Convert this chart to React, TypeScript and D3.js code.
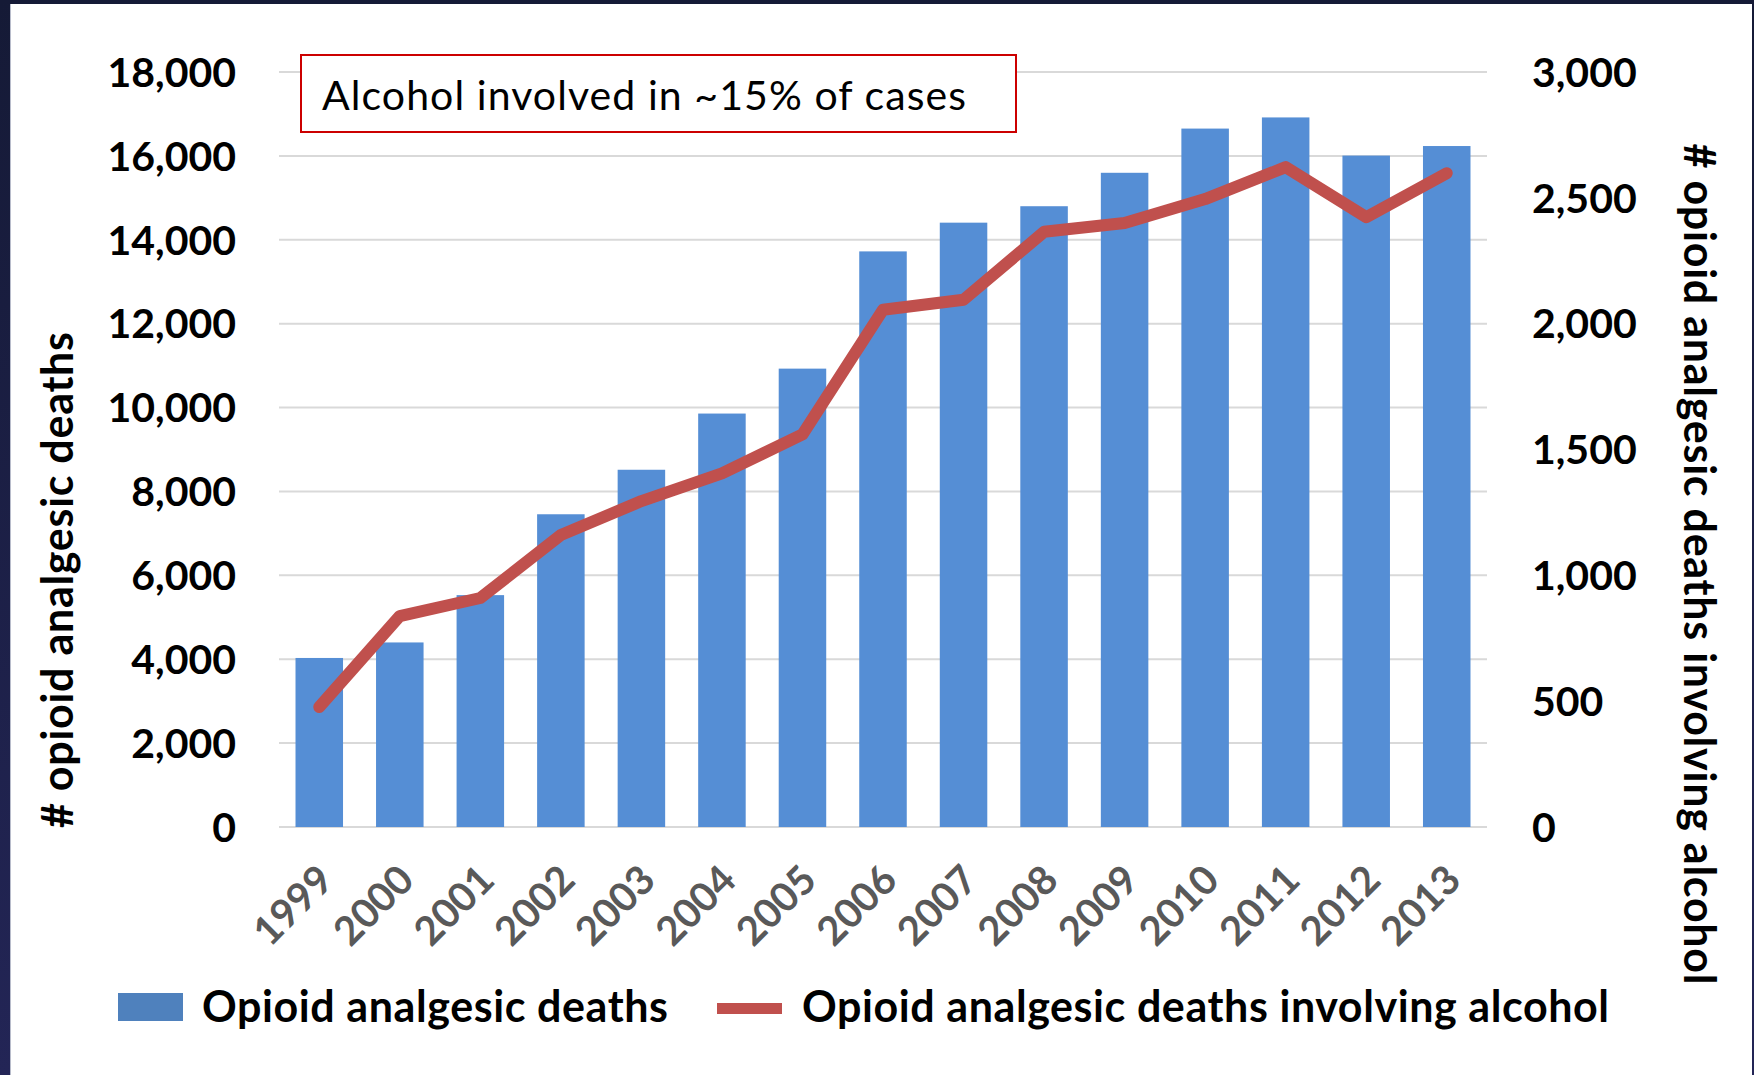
import React from "react";
import * as d3 from "d3";

const years = ["1999","2000","2001","2002","2003","2004","2005","2006","2007","2008","2009","2010","2011","2012","2013"];
const opioidDeaths = [4030, 4400, 5528, 7456, 8517, 9857, 10928, 13723, 14408, 14800, 15597, 16651, 16917, 16007, 16235];
const alcoholDeaths = [477, 838, 910, 1160, 1295, 1405, 1560, 2055, 2095, 2365, 2400, 2495, 2622, 2423, 2598];
const leftTicks = [0, 2000, 4000, 6000, 8000, 10000, 12000, 14000, 16000, 18000];
const rightTicks = [0, 500, 1000, 1500, 2000, 2500, 3000];
const leftTitle = "# opioid analgesic deaths";
const rightTitle = "# opioid analgesic deaths involving alcohol";
const annotation = "Alcohol involved in ~15% of cases";
const legendBar = "Opioid analgesic deaths";
const legendLine = "Opioid analgesic deaths involving alcohol";

const W = 1754, H = 1075;
const plot = { left: 279, right: 1487, top: 72, bottom: 827 };
const FONT = "Lato, 'Open Sans', sans-serif";

export default function App() {
  const x = d3.scaleBand<string>().domain(years).range([plot.left, plot.right]).paddingInner(0.41).paddingOuter(0.205);
  const yL = d3.scaleLinear().domain([0, 18000]).range([plot.bottom, plot.top]);
  const yR = d3.scaleLinear().domain([0, 3000]).range([plot.bottom, plot.top]);
  const fmt = d3.format(",");
  const line = d3.line<number>()
    .x((_, i) => (x(years[i]) as number) + x.bandwidth() / 2)
    .y((d) => yR(d));

  return (
    <svg width={W} height={H} style={{ position: "absolute", left: 0, top: 0 }} fontFamily={FONT}>
      <defs>
        <linearGradient id="frame" x1="0" y1="0" x2="0" y2="1">
          <stop offset="0" stopColor="#151a36" />
          <stop offset="1" stopColor="#232556" />
        </linearGradient>
      </defs>
      <rect x={0} y={0} width={W} height={H} fill="url(#frame)" />
      <rect x={10} y={4} width={1742} height={H - 4} fill="#ffffff" />
      <line x1={10.5} y1={4} x2={10.5} y2={H} stroke="#b8bccb" strokeWidth={1} />

      {/* gridlines */}
      {leftTicks.map((t) => (
        <line key={t} x1={plot.left} x2={plot.right} y1={yL(t)} y2={yL(t)} stroke="#d9d9d9" strokeWidth={2} />
      ))}

      {/* bars */}
      {opioidDeaths.map((v, i) => (
        <rect key={years[i]} x={x(years[i])} y={yL(v)} width={x.bandwidth()} height={yL(0) - yL(v)} fill="#558ed5" />
      ))}

      {/* line */}
      <path d={line(alcoholDeaths) || ""} fill="none" stroke="#c0504d" strokeWidth={12} strokeLinejoin="round" strokeLinecap="round" />

      {/* left ticks */}
      {leftTicks.map((t) => (
        <text key={t} x={236} y={yL(t)} dy="0.36em" textAnchor="end" fontSize={41} fontWeight={700} fill="#000">{fmt(t)}</text>
      ))}
      {/* right ticks */}
      {rightTicks.map((t) => (
        <text key={t} x={1532} y={yR(t)} dy="0.36em" textAnchor="start" fontSize={41} fontWeight={700} fill="#000">{fmt(t)}</text>
      ))}

      {/* x labels */}
      {years.map((yr) => {
        const cx = (x(yr) as number) + x.bandwidth() / 2;
        return (
          <text key={yr} transform={`translate(${cx - 4},${862}) rotate(-45)`} dy="0.72em" textAnchor="end" fontSize={40} fontWeight={700} fill="#595959">{yr}</text>
        );
      })}

      {/* axis titles */}
      <text transform={`translate(73,580) rotate(-90)`} textAnchor="middle" fontSize={43} fontWeight={700} fill="#000" textLength={496} lengthAdjust="spacing">{leftTitle}</text>
      <text transform={`translate(1684,564) rotate(90)`} textAnchor="middle" fontSize={43} fontWeight={700} fill="#000" textLength={841} lengthAdjust="spacing">{rightTitle}</text>

      {/* annotation box */}
      <rect x={301} y={55} width={715} height={77} fill="#fff" stroke="#cc0000" strokeWidth={2} />
      <text x={322} y={110} fontSize={41} fontWeight={400} fill="#000" textLength={644} lengthAdjust="spacing">{annotation}</text>

      {/* legend */}
      <rect x={118} y={993} width={65} height={28} fill="#4f81bd" />
      <text x={202} y={1022} fontSize={43} fontWeight={700} fill="#000" textLength={466} lengthAdjust="spacing">{legendBar}</text>
      <line x1={717} x2={782} y1={1008.5} y2={1008.5} stroke="#c0504d" strokeWidth={11} />
      <text x={802} y={1022} fontSize={43} fontWeight={700} fill="#000" textLength={807} lengthAdjust="spacing">{legendLine}</text>
    </svg>
  );
}
